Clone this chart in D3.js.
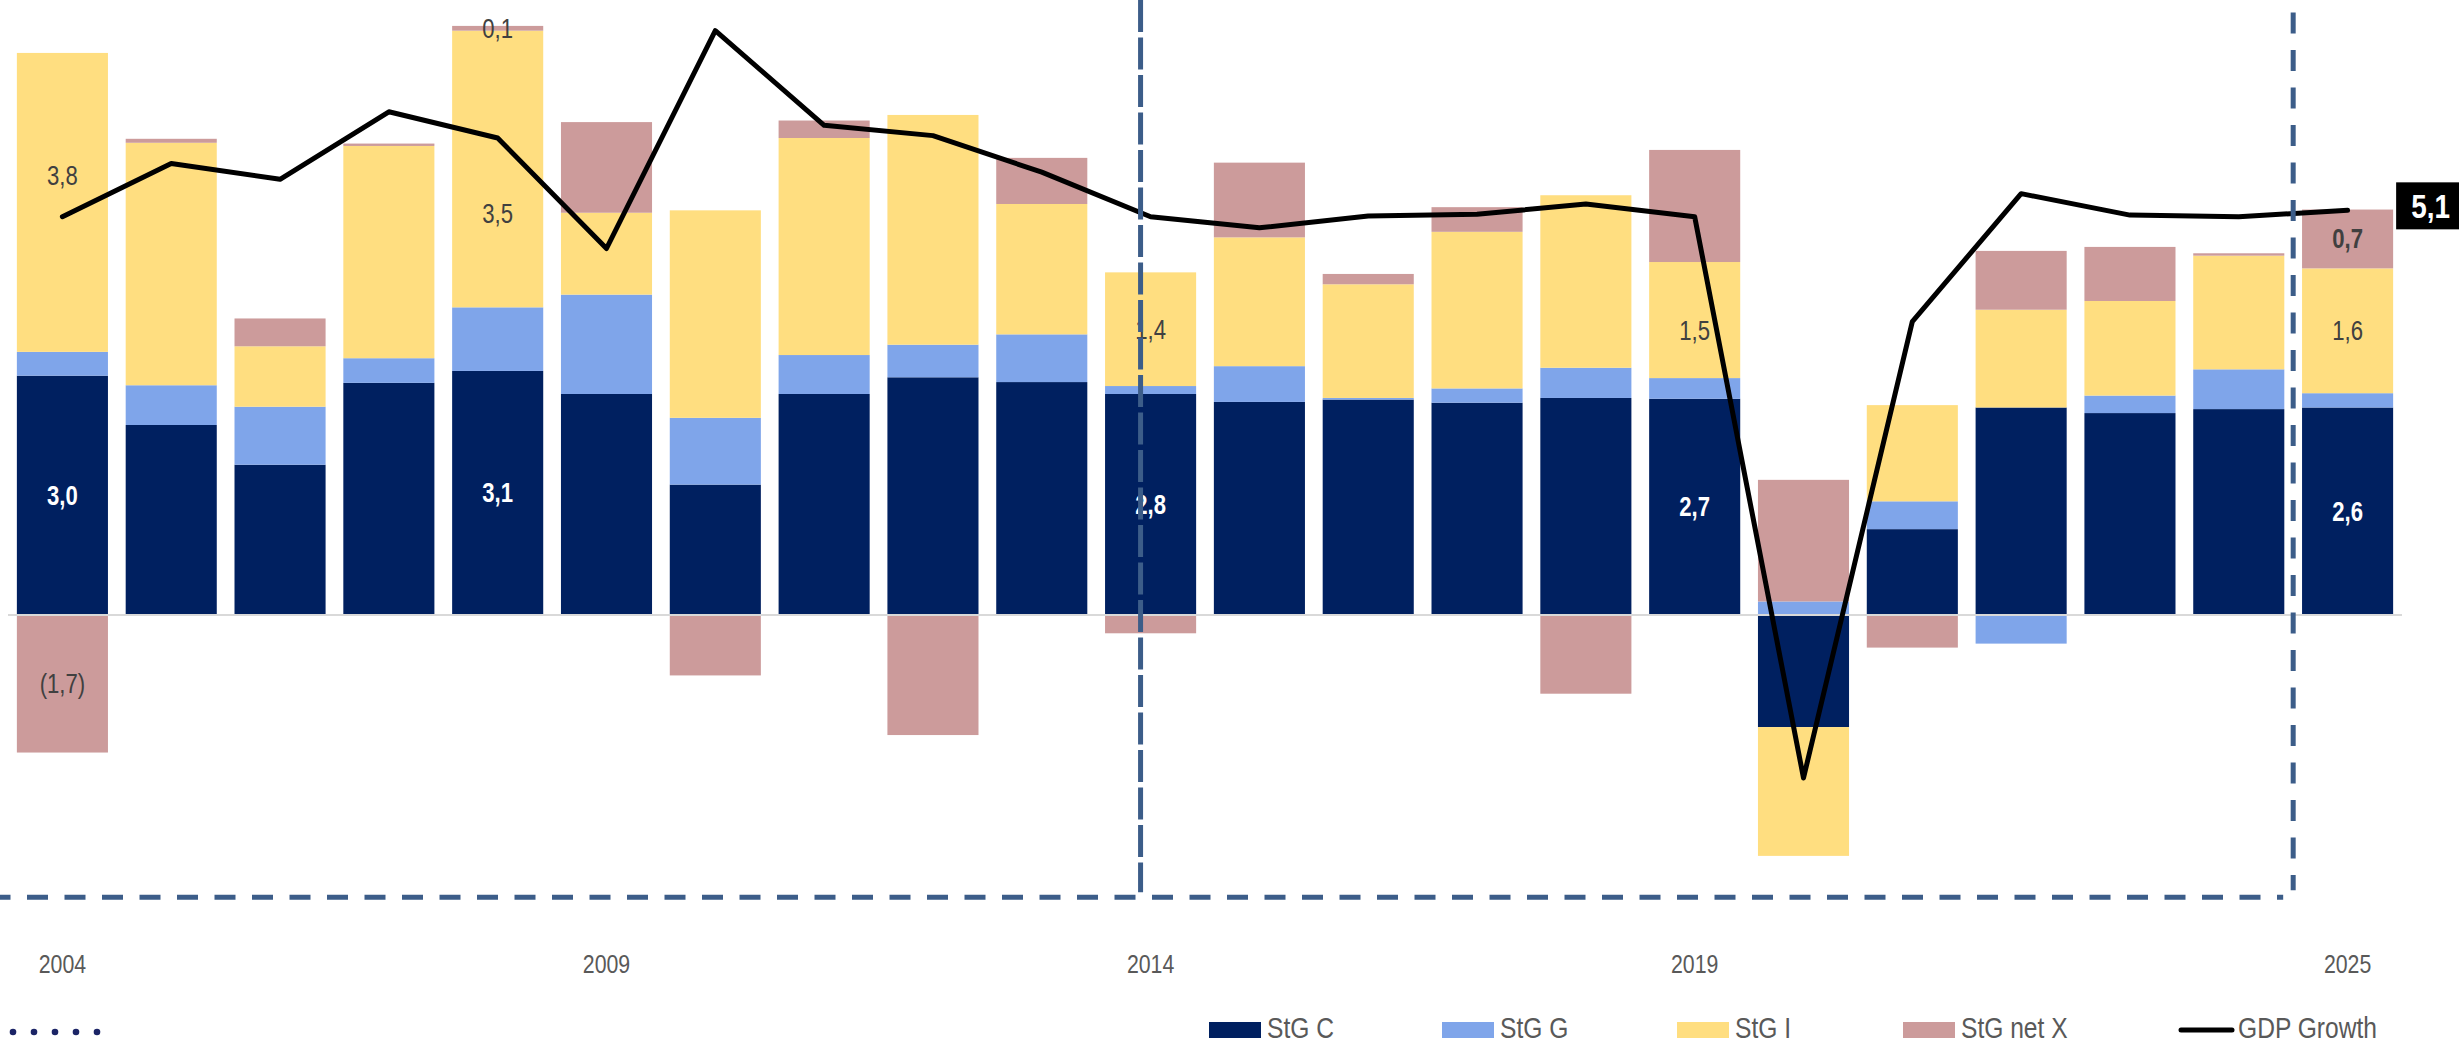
<!DOCTYPE html>
<html lang="en">

<head>
    <meta charset="utf-8" />
    <script src="https://cdnjs.cloudflare.com/ajax/libs/d3/7.8.5/d3.min.js"></script>
    <style type="text/css">
        body {
            margin: 0;
            background: #ffffff;
        }

        svg text {
            font-family: 'Liberation Sans', Arial, sans-serif;
        }
    </style>
</head>

<body>
    <div class="svg-box"></div>
    <script type="text/javascript">
        // Contribution to growth, by year (percentage points)
        var years = ['2004', '2005', '2006', '2007', '2008', '2009', '2010', '2011', '2012', '2013', '2014',
            '2015', '2016', '2017', '2018', '2019', '2020', '2021', '2022', '2023', '2024', '2025'];
        var stgC = [3.01, 2.39, 1.89, 2.92, 3.07, 2.78, 1.64, 2.78, 2.99, 2.93, 2.78,
            2.68, 2.71, 2.67, 2.73, 2.72, -1.41, 1.08, 2.61, 2.54, 2.59, 2.61];
        var stgG = [0.30, 0.50, 0.73, 0.31, 0.80, 1.25, 0.84, 0.49, 0.41, 0.60, 0.10,
            0.45, 0.02, 0.18, 0.38, 0.26, 0.17, 0.35, -0.36, 0.22, 0.50, 0.18];
        var stgI = [3.76, 3.05, 0.76, 2.67, 3.48, 1.03, 2.61, 2.73, 2.89, 1.64, 1.43,
            1.62, 1.43, 1.97, 2.17, 1.46, -1.62, 1.21, 1.23, 1.19, 1.43, 1.57];
        var stgX = [-1.73, 0.05, 0.35, 0.03, 0.06, 1.14, -0.76, 0.22, -1.51, 0.58, -0.23,
            0.94, 0.13, 0.31, -0.99, 1.41, 1.53, -0.41, 0.74, 0.68, 0.03, 0.74];
        var gdpGrowth = [5.01, 5.68, 5.48, 6.33, 6.00, 4.61, 7.35, 6.16, 6.03, 5.57, 5.01,
            4.87, 5.02, 5.04, 5.17, 5.01, -2.05, 3.69, 5.30, 5.03, 5.01, 5.09];

        var tickYears = ['2004', '2009', '2014', '2019', '2025'];
        var seriesKeys = ['C', 'G', 'I', 'X'];
        var seriesNames = ['StG C', 'StG G', 'StG I', 'StG net X'];

        // segments that carry a data label
        var labelled = [
            { year: '2004', key: 'C' }, { year: '2004', key: 'I' }, { year: '2004', key: 'X' },
            { year: '2008', key: 'C' }, { year: '2008', key: 'I' }, { year: '2008', key: 'X' },
            { year: '2014', key: 'C' }, { year: '2014', key: 'I' },
            { year: '2019', key: 'C' }, { year: '2019', key: 'I' },
            { year: '2025', key: 'C' }, { year: '2025', key: 'I' }, { year: '2025', key: 'X' }
        ];

        // -- BEGIN D3 --
        let width = 2459;
        let height = 1044;

        // squeeze Liberation Sans into an Arial Narrow look
        function narrow(sel) {
            sel.attr('transform', function () {
                var tx = +this.getAttribute('x') || 0;
                var ty = +this.getAttribute('y') || 0;
                return 'translate(' + tx + ',' + ty + ') scale(0.82,1)';
            })
                .attr('x', 0)
                .attr('y', 0);
        }

        var colors = d3.scaleOrdinal()
            .domain(seriesKeys)
            .range(['#002060', '#7FA5EA', '#FFDE80', '#CC9B9B']);

        var rows = years.map(function (yr, i) {
            return { year: yr, C: stgC[i], G: stgG[i], I: stgI[i], X: stgX[i], gdp: gdpGrowth[i] };
        });

        var stacked = d3.stack()
            .keys(seriesKeys)
            .offset(d3.stackOffsetDiverging)(rows);

        var x = d3.scaleBand()
            .domain(years)
            .range([8, 2402])
            .paddingInner(0.163)
            .paddingOuter(0.0815);

        var y = d3.scaleLinear()
            .domain([-3, 7.5])
            .range([853.5, 18.75]);

        var svg = d3.select('div.svg-box')
            .append('svg')
            .attr('width', width)
            .attr('height', height);

        // bars
        svg.append('g')
            .selectAll('g')
            .data(stacked)
            .join('g')
            .attr('fill', function (s) { return colors(s.key) })
            .selectAll('rect')
            .data(function (s) { return s })
            .join('rect')
            .attr('x', function (d) { return x(d.data.year) })
            .attr('width', x.bandwidth())
            .attr('y', function (d) { return y(Math.max(d[0], d[1])) })
            .attr('height', function (d) { return Math.abs(y(d[0]) - y(d[1])) });

        // zero line
        svg.append('line')
            .attr('x1', x.range()[0])
            .attr('x2', x.range()[1])
            .attr('y1', y(0))
            .attr('y2', y(0))
            .attr('stroke', '#D9D9D9')
            .attr('stroke-width', 2);

        // data labels
        var fmt = d3.format('.1f');
        function labelText(v) {
            var s = fmt(Math.abs(v)).replace('.', ',');
            return v < 0 ? '(' + s + ')' : s;
        }
        var nudge = { '2004-I': -27, '2008-I': 45, '2019-I': 10 };

        svg.append('g')
            .selectAll('text')
            .data(labelled)
            .join('text')
            .attr('x', function (d) { return x(d.year) + x.bandwidth() / 2 })
            .attr('y', function (d) {
                var s = stacked[seriesKeys.indexOf(d.key)];
                var seg = s[years.indexOf(d.year)];
                return y((seg[0] + seg[1]) / 2) + (nudge[d.year + '-' + d.key] || 0);
            })
            .attr('dy', '0.35em')
            .attr('text-anchor', 'middle')
            .attr('font-size', '27px')
            .attr('font-weight', function (d) { return (d.key === 'C' || (d.key === 'X' && d.year === '2025')) ? 'bold' : 'normal' })
            .attr('fill', function (d) { return d.key === 'C' ? '#ffffff' : '#404040' })
            .text(function (d) {
                var i = years.indexOf(d.year);
                return labelText(rows[i][d.key]);
            })
            .call(narrow);

        // GDP growth line
        var line = d3.line()
            .x(function (d) { return x(d.year) + x.bandwidth() / 2 })
            .y(function (d) { return y(d.gdp) });

        svg.append('path')
            .datum(rows)
            .attr('d', line)
            .attr('fill', 'none')
            .attr('stroke', '#000000')
            .attr('stroke-width', 5)
            .attr('stroke-linejoin', 'round')
            .attr('stroke-linecap', 'round');

        // label for the last GDP value
        var last = rows[rows.length - 1];
        var boxX = x(last.year) + x.bandwidth() + 3;
        var boxY = y(last.gdp) - 4;
        svg.append('rect')
            .attr('x', boxX)
            .attr('y', boxY - 24)
            .attr('width', width - boxX)
            .attr('height', 47)
            .attr('fill', '#000000');
        svg.append('text')
            .attr('x', boxX + (width - boxX) / 2 + 3)
            .attr('y', boxY)
            .attr('dy', '0.35em')
            .attr('text-anchor', 'middle')
            .attr('font-size', '34px')
            .attr('font-weight', 'bold')
            .attr('fill', '#ffffff')
            .text(labelText(last.gdp))
            .call(narrow);

        // dashed frame (actuals / forecast split)
        var step = x.step();
        var leftX = x('2014') + x.bandwidth() * 0.39;
        var rightX = x('2025') - (step - x.bandwidth()) / 2;
        var frameY = y(-3.55);
        var dashColor = '#3C5D89';

        svg.append('line')
            .attr('x1', 0).attr('x2', rightX - 10)
            .attr('y1', frameY).attr('y2', frameY)
            .attr('stroke', dashColor).attr('stroke-width', 5)
            .attr('stroke-dasharray', '21 16.5').attr('stroke-dashoffset', 10.5);
        svg.append('line')
            .attr('x1', leftX).attr('x2', leftX)
            .attr('y1', 0).attr('y2', frameY - 5)
            .attr('stroke', dashColor).attr('stroke-width', 5)
            .attr('stroke-dasharray', '32 5.5');
        svg.append('line')
            .attr('x1', rightX).attr('x2', rightX)
            .attr('y1', y(7.58)).attr('y2', frameY - 7)
            .attr('stroke', dashColor).attr('stroke-width', 5)
            .attr('stroke-dasharray', '21 16.5');

        // x axis, only a few years
        var xAxis = svg.append('g')
            .attr('transform', 'translate(0,964)')
            .call(d3.axisBottom(x).tickValues(tickYears).tickSize(0).tickPadding(0));
        xAxis.select('.domain').remove();
        xAxis.selectAll('text')
            .attr('y', 0)
            .attr('dy', '0.35em')
            .attr('font-size', '26px')
            .attr('font-family', null)
            .attr('fill', '#595959')
            .call(narrow);

        // legend
        var legendX = [1209, 1442, 1677, 1903];
        var legend = svg.append('g');
        seriesKeys.forEach(function (k, i) {
            legend.append('rect')
                .attr('x', legendX[i])
                .attr('y', 1022)
                .attr('width', 52)
                .attr('height', 16)
                .attr('fill', colors(k));
            legend.append('text')
                .attr('x', legendX[i] + 58)
                .attr('y', 1038)
                .attr('font-size', '30px')
                .attr('fill', '#595959')
                .text(seriesNames[i])
                .call(narrow);
        });
        legend.append('line')
            .attr('x1', 2181).attr('x2', 2232)
            .attr('y1', 1030).attr('y2', 1030)
            .attr('stroke', '#000000')
            .attr('stroke-width', 5)
            .attr('stroke-linecap', 'round');
        legend.append('text')
            .attr('x', 2238)
            .attr('y', 1038)
            .attr('font-size', '30px')
            .attr('fill', '#595959')
            .text('GDP Growth')
            .call(narrow);

        // dotted legend key, cut off at the left
        legend.selectAll('circle')
            .data(d3.range(5))
            .join('circle')
            .attr('cx', function (d) { return 13 + d * 21 })
            .attr('cy', 1032)
            .attr('r', 3.3)
            .attr('fill', '#1B2466');

        // -- END D3 --
    </script>
</body>

</html>
